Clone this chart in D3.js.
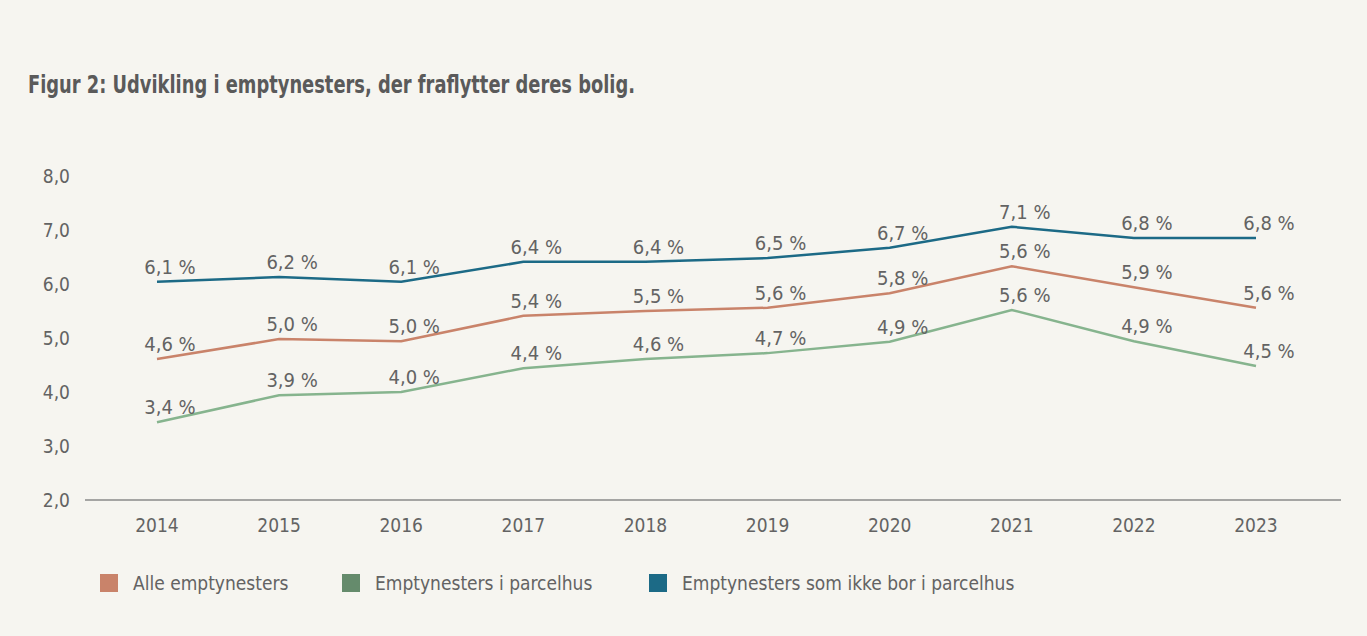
<!DOCTYPE html>
<html>
<head>
<meta charset="utf-8">
<script src="https://cdn.jsdelivr.net/npm/d3@7"></script>
<style>
  html, body { margin: 0; padding: 0; background: #f6f5f0; }
  #chart { width: 1367px; height: 636px; }
  text { font-family: "DejaVu Sans Condensed", "Liberation Sans Narrow", sans-serif; fill: #636363; }
</style>
</head>
<body>
<div id="chart"></div>
<script>
const years = ["2014", "2015", "2016", "2017", "2018", "2019", "2020", "2021", "2022", "2023"];
const yTicks = [2, 3, 4, 5, 6, 7, 8];

const seriesNames = ["Alle emptynesters", "Emptynesters i parcelhus", "Emptynesters som ikke bor i parcelhus"];

// line positions as drawn
const alleValues = [4.61, 4.98, 4.94, 5.41, 5.50, 5.56, 5.83, 6.33, 5.94, 5.56];
const parcelValues = [3.44, 3.94, 4.00, 4.44, 4.61, 4.72, 4.93, 5.52, 4.94, 4.48];
const ikkeParcelValues = [6.04, 6.13, 6.04, 6.41, 6.41, 6.48, 6.67, 7.06, 6.85, 6.85];

// labels as printed
const alleLabels = ["4,6 %", "5,0 %", "5,0 %", "5,4 %", "5,5 %", "5,6 %", "5,8 %", "5,6 %", "5,9 %", "5,6 %"];
const parcelLabels = ["3,4 %", "3,9 %", "4,0 %", "4,4 %", "4,6 %", "4,7 %", "4,9 %", "5,6 %", "4,9 %", "4,5 %"];
const ikkeParcelLabels = ["6,1 %", "6,2 %", "6,1 %", "6,4 %", "6,4 %", "6,5 %", "6,7 %", "7,1 %", "6,8 %", "6,8 %"];

const lineColors = ["#c9836a", "#86b48e", "#1c6a86"];
const legendColors = ["#c9836a", "#658b6c", "#1c6a86"];

const series = [
  { name: seriesNames[0], values: alleValues, labels: alleLabels, color: lineColors[0], legend: legendColors[0] },
  { name: seriesNames[1], values: parcelValues, labels: parcelLabels, color: lineColors[1], legend: legendColors[1] },
  { name: seriesNames[2], values: ikkeParcelValues, labels: ikkeParcelLabels, color: lineColors[2], legend: legendColors[2] },
];

const W = 1367, H = 636;
const svg = d3.select("#chart").append("svg")
  .attr("width", W).attr("height", H);

svg.append("rect").attr("width", W).attr("height", H).attr("fill", "#f6f5f0");

svg.append("text")
  .attr("x", 28).attr("y", 93)
  .attr("textLength", 607)
  .attr("lengthAdjust", "spacingAndGlyphs")
  .style("font-size", "24px")
  .style("font-weight", "bold")
  .style("fill", "#5a5a5a")
  .text("Figur 2: Udvikling i emptynesters, der fraflytter deres bolig.");

const x = d3.scalePoint().domain(years).range([157, 1256]);
const y = d3.scaleLinear().domain([2, 8]).range([500, 176]);

// axis baseline
svg.append("line")
  .attr("x1", 85).attr("x2", 1341)
  .attr("y1", y(2)).attr("y2", y(2))
  .attr("stroke", "#8a8a8a").attr("stroke-width", 1.5);

// y labels
svg.append("g").selectAll("text")
  .data(yTicks)
  .join("text")
  .attr("x", 70)
  .attr("y", d => y(d) + 7)
  .attr("text-anchor", "end")
  .style("font-size", "19px")
  .text(d => d3.format(".1f")(d).replace(".", ","));

// x labels
svg.append("g").selectAll("text")
  .data(years)
  .join("text")
  .attr("x", d => x(d))
  .attr("y", 532)
  .attr("text-anchor", "middle")
  .style("font-size", "19px")
  .text(d => d);

const line = d3.line()
  .x((d, i) => x(years[i]))
  .y(d => y(d));

series.forEach(s => {
  svg.append("path")
    .datum(s.values)
    .attr("d", line)
    .attr("fill", "none")
    .attr("stroke", s.color)
    .attr("stroke-width", 2.5);

  svg.append("g").selectAll("text")
    .data(s.values)
    .join("text")
    .attr("x", (d, i) => x(years[i]) + 13)
    .attr("y", d => y(d) - 8)
    .attr("text-anchor", "middle")
    .style("font-size", "20px")
    .text((d, i) => s.labels[i]);
});

// legend
const legendX = [100, 342, 649];
const legend = svg.append("g").selectAll("g")
  .data(series)
  .join("g")
  .attr("transform", (d, i) => `translate(${legendX[i]},574)`);

legend.append("rect")
  .attr("width", 18).attr("height", 18)
  .attr("fill", d => d.legend);

legend.append("text")
  .attr("x", 33).attr("y", 16)
  .style("font-size", "19px")
  .text(d => d.name);
</script>
</body>
</html>
